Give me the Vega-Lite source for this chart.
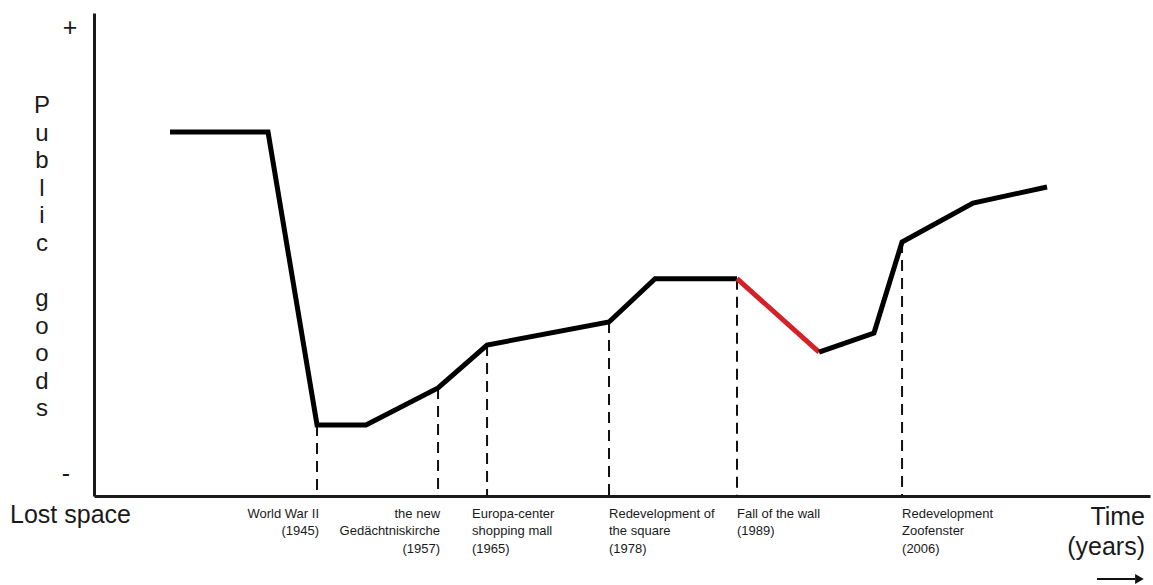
{
  "$schema": "https://vega.github.io/schema/vega-lite/v6.json",
  "width": 1056,
  "height": 483,
  "autosize": "none",
  "padding": {"left": 94, "top": 13, "right": 3, "bottom": 89},
  "background": "white",
  "config": {
    "view": {"stroke": null},
    "axis": {"domain": true, "domainColor": "#1a1a1a", "domainWidth": 3, "ticks": false, "labels": false, "grid": false},
    "text": {"font": "Liberation Sans", "color": "#1a1a1a"}
  },
  "datasets": {
    "curve": [
      {"t": 7.2, "goods": 75.36, "phase": "before"},
      {"t": 16.48, "goods": 75.36, "phase": "before"},
      {"t": 21.12, "goods": 14.7, "phase": "before"},
      {"t": 25.76, "goods": 14.7, "phase": "before"},
      {"t": 32.58, "goods": 22.36, "phase": "before"},
      {"t": 37.22, "goods": 31.26, "phase": "before"},
      {"t": 48.77, "goods": 36.02, "phase": "before"},
      {"t": 53.13, "goods": 45.0, "phase": "before"},
      {"t": 60.89, "goods": 45.0, "phase": "before"},
      {"t": 60.89, "goods": 45.0, "phase": "fall"},
      {"t": 68.66, "goods": 29.81, "phase": "fall"},
      {"t": 68.66, "goods": 29.81, "phase": "after"},
      {"t": 73.86, "goods": 33.75, "phase": "after"},
      {"t": 76.52, "goods": 52.59, "phase": "after"},
      {"t": 83.24, "goods": 60.66, "phase": "after"},
      {"t": 90.25, "goods": 63.98, "phase": "after"}
    ],
    "events": [
      {"year": 1945, "label": "World War II\n(1945)", "t": 21.12, "goods": 14.7},
      {"year": 1957, "label": "the new\nGedächtniskirche\n(1957)", "t": 32.58, "goods": 22.36},
      {"year": 1965, "label": "Europa-center\nshopping mall\n(1965)", "t": 37.22, "goods": 31.26},
      {"year": 1978, "label": "Redevelopment of\nthe square\n(1978)", "t": 48.77, "goods": 36.02},
      {"year": 1989, "label": "Fall of the wall\n(1989)", "t": 60.89, "goods": 45.0},
      {"year": 2006, "label": "Redevelopment\nZoofenster\n(2006)", "t": 76.52, "goods": 52.59}
    ]
  },
  "layer": [
    {
      "data": {"name": "events"},
      "mark": {"type": "rule", "strokeDash": [11, 7], "strokeWidth": 2, "color": "#111"},
      "encoding": {
        "x": {"field": "t", "type": "quantitative", "scale": {"domain": [0, 100], "nice": false, "zero": false}, "axis": {"title": null}},
        "y": {"field": "goods", "type": "quantitative", "scale": {"domain": [0, 100], "nice": false, "zero": false}, "axis": {"title": null}},
        "y2": {"datum": 0}
      }
    },
    {
      "data": {"name": "curve"},
      "mark": {"type": "line", "strokeWidth": 5, "strokeJoin": "miter", "strokeCap": "butt"},
      "encoding": {
        "x": {"field": "t", "type": "quantitative", "title": null},
        "y": {"field": "goods", "type": "quantitative", "title": null},
        "color": {"field": "phase", "type": "nominal", "scale": {"domain": ["before", "fall", "after"], "range": ["#000000", "#d42027", "#000000"]}, "legend": null},
        "detail": {"field": "phase"},
        "order": {"field": "t", "type": "quantitative"}
      }
    },
    {
      "data": {"name": "events"},
      "transform": [{"filter": "datum.year < 1960"}],
      "mark": {"type": "text", "align": "right", "baseline": "alphabetic", "fontSize": 13, "lineHeight": 17.5, "lineBreak": "\n", "dx": 2},
      "encoding": {
        "x": {"field": "t", "type": "quantitative", "title": null},
        "y": {"datum": -4.55},
        "text": {"field": "label"}
      }
    },
    {
      "data": {"name": "events"},
      "transform": [{"filter": "datum.year == 1965"}],
      "mark": {"type": "text", "align": "left", "baseline": "alphabetic", "fontSize": 13, "lineHeight": 17.5, "lineBreak": "\n", "dx": -15},
      "encoding": {
        "x": {"field": "t", "type": "quantitative", "title": null},
        "y": {"datum": -4.55},
        "text": {"field": "label"}
      }
    },
    {
      "data": {"name": "events"},
      "transform": [{"filter": "datum.year > 1970"}],
      "mark": {"type": "text", "align": "left", "baseline": "alphabetic", "fontSize": 13, "lineHeight": 17.5, "lineBreak": "\n", "dx": 0},
      "encoding": {
        "x": {"field": "t", "type": "quantitative", "title": null},
        "y": {"datum": -4.55},
        "text": {"field": "label"}
      }
    },
    {
      "data": {"values": [{"t": -7.95, "goods": -5.59, "label": "Lost space"}]},
      "mark": {"type": "text", "align": "left", "baseline": "alphabetic", "fontSize": 25},
      "encoding": {
        "x": {"field": "t", "type": "quantitative", "title": null},
        "y": {"field": "goods", "type": "quantitative", "title": null},
        "text": {"field": "label"}
      }
    },
    {
      "data": {"values": [{"t": 99.53, "goods": -6.0, "label": "Time\n(years)"}]},
      "mark": {"type": "text", "align": "right", "baseline": "alphabetic", "fontSize": 25, "lineHeight": 30, "lineBreak": "\n"},
      "encoding": {
        "x": {"field": "t", "type": "quantitative", "title": null},
        "y": {"field": "goods", "type": "quantitative", "title": null},
        "text": {"field": "label"}
      }
    },
    {
      "data": {"values": [
        {"t": -4.92, "goods": 79.3, "label": "P\nu\nb\nl\ni\nc"},
        {"t": -4.92, "goods": 39.34, "label": "g\no\no\nd\ns"}
      ]},
      "mark": {"type": "text", "align": "center", "baseline": "alphabetic", "fontSize": 24, "lineHeight": 27.6, "lineBreak": "\n"},
      "encoding": {
        "x": {"field": "t", "type": "quantitative", "title": null},
        "y": {"field": "goods", "type": "quantitative", "title": null},
        "text": {"field": "label"}
      }
    },
    {
      "data": {"values": [{"t": -2.27, "goods": 95.2, "label": "+"}, {"t": -2.65, "goods": 2.9, "label": "-"}]},
      "mark": {"type": "text", "align": "center", "baseline": "alphabetic", "fontSize": 25},
      "encoding": {
        "x": {"field": "t", "type": "quantitative", "title": null},
        "y": {"field": "goods", "type": "quantitative", "title": null},
        "text": {"field": "label"}
      }
    },
    {
      "data": {"values": [{"t": 94.98, "t2": 98.6, "goods": -17.18}]},
      "mark": {"type": "rule", "strokeWidth": 2, "color": "#111"},
      "encoding": {
        "x": {"field": "t", "type": "quantitative", "title": null},
        "x2": {"field": "t2"},
        "y": {"field": "goods", "type": "quantitative", "title": null}
      }
    },
    {
      "data": {"values": [{"t": 99.0, "goods": -17.18}]},
      "mark": {"type": "point", "shape": "triangle-right", "filled": true, "size": 100, "color": "#111", "opacity": 1},
      "encoding": {
        "x": {"field": "t", "type": "quantitative", "title": null},
        "y": {"field": "goods", "type": "quantitative", "title": null}
      }
    }
  ]
}
